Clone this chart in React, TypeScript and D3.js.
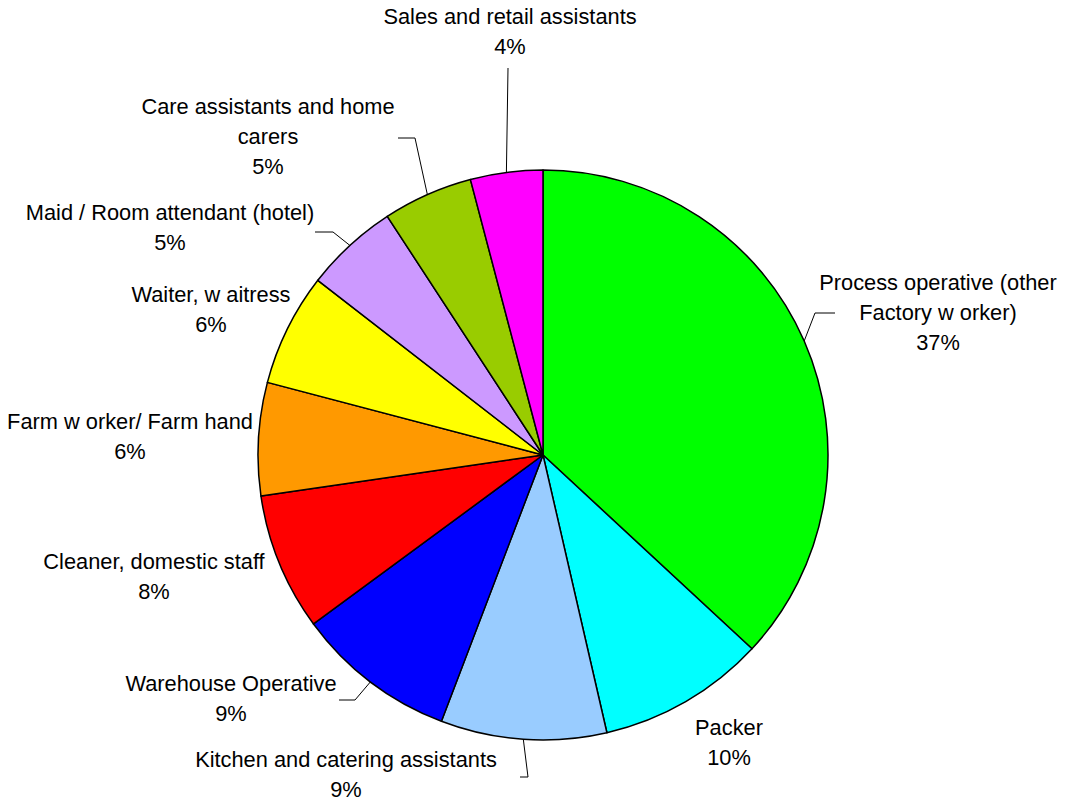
import * as d3 from "d3";

// occupations, clockwise from 12 o'clock
const jobs = [
  "Process operative",
  "Packer",
  "Kitchen and catering assistants",
  "Warehouse Operative",
  "Cleaner, domestic staff",
  "Farm worker",
  "Waiter",
  "Maid",
  "Care assistants",
  "Sales and retail assistants",
];
const shares = [36.9, 9.5, 9.4, 9.1, 7.8, 6.4, 6.4, 5.3, 5.1, 4.1];
const pctLabels = ["37%", "10%", "9%", "9%", "8%", "6%", "6%", "5%", "5%", "4%"];
const labelLines = [
  ["Process operative (other", "Factory w orker)"],
  ["Packer"],
  ["Kitchen and catering assistants"],
  ["Warehouse Operative"],
  ["Cleaner, domestic staff"],
  ["Farm w orker/ Farm hand"],
  ["Waiter, w aitress"],
  ["Maid / Room attendant (hotel)"],
  ["Care assistants and home", "carers"],
  ["Sales and retail assistants"],
];
const colors = [
  "#00ff00", "#00ffff", "#99ccff", "#0000ff", "#ff0000",
  "#ff9900", "#ffff00", "#cc99ff", "#99cc00", "#ff00ff",
];

// label anchor (centre x, first baseline) and leader knee (null = no leader)
const labelLayout: { x: number; y: number; knee: [number, number][] | null }[] = [
  { x: 938, y: 290, knee: [[835, 313], [815, 313]] },
  { x: 729, y: 735, knee: null },
  { x: 346, y: 767, knee: [[520, 777], [528, 777]] },
  { x: 231, y: 691, knee: [[339, 700], [355, 700]] },
  { x: 154, y: 569, knee: null },
  { x: 130, y: 429, knee: null },
  { x: 211, y: 302, knee: null },
  { x: 170, y: 220, knee: [[315, 232], [333, 232]] },
  { x: 268, y: 114, knee: [[398, 138], [415, 138]] },
  { x: 510, y: 24, knee: [[508, 68]] },
];

const W = 1084;
const H = 801;
const cx = 543;
const cy = 455;
const R = 285;
const lineStep = 30;

export default function App() {
  const pie = d3
    .pie<number>()
    .sort(null)
    .value((d) => d);
  const arcs = pie(shares);
  const arc = d3.arc<d3.PieArcDatum<number>>().innerRadius(0).outerRadius(R);
  const edge = d3.arc<d3.PieArcDatum<number>>().innerRadius(R).outerRadius(R);
  const line = d3.line();

  return (
    <svg
      width={W}
      height={H}
      style={{ position: "absolute", left: 0, top: 0, background: "white" }}
      fontFamily="'Liberation Sans', Arial, sans-serif"
      fontSize={21.8}
    >
      <g transform={`translate(${cx},${cy})`}>
        {arcs.map((a, i) => (
          <path
            key={jobs[i]}
            d={arc(a) || ""}
            fill={colors[i]}
            stroke="#000"
            strokeWidth={1.5}
            strokeLinejoin="round"
          />
        ))}
      </g>
      {arcs.map((a, i) => {
        const lay = labelLayout[i];
        if (!lay.knee) return null;
        const [ex, ey] = edge.centroid(a);
        const pts: [number, number][] = [...lay.knee, [cx + ex, cy + ey]];
        return (
          <path
            key={"l" + i}
            d={line(pts) || ""}
            fill="none"
            stroke="#000"
            strokeWidth={1}
          />
        );
      })}
      {labelLayout.map((lay, i) => {
        const lines = [...labelLines[i], pctLabels[i]];
        return (
          <text key={"t" + i} textAnchor="middle" fill="#000">
            {lines.map((s, j) => (
              <tspan key={j} x={lay.x} y={lay.y + j * lineStep}>
                {s}
              </tspan>
            ))}
          </text>
        );
      })}
    </svg>
  );
}
